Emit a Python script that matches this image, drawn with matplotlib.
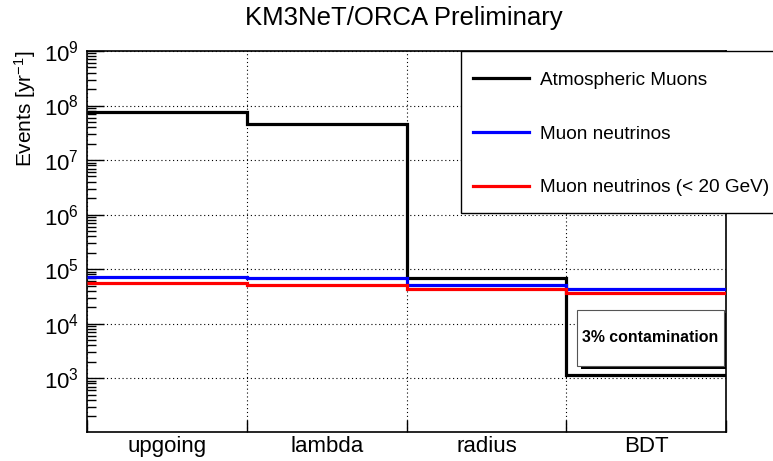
import matplotlib
matplotlib.use("Agg")
import matplotlib.pyplot as plt
import numpy as np
from matplotlib.patches import Rectangle
from matplotlib.ticker import LogLocator, FixedLocator, NullFormatter

plt.rcParams['font.family'] = ['Liberation Sans', 'DejaVu Sans']
plt.rcParams['mathtext.fontset'] = 'custom'
plt.rcParams['mathtext.rm'] = 'Liberation Sans'
plt.rcParams['mathtext.it'] = 'Liberation Sans:italic'
plt.rcParams['mathtext.bf'] = 'Liberation Sans:bold'

# ---- data ----
categories = ["upgoing", "lambda", "radius", "BDT"]
atm_muons = [7.7e7, 4.5e7, 7.0e4, 1.15e3]
numu = [7.2e4, 6.8e4, 5.2e4, 4.4e4]
numu_lowE = [5.6e4, 5.2e4, 4.3e4, 3.6e4]
series_labels = ["Atmospheric Muons", "Muon neutrinos", "Muon neutrinos (< 20 GeV)"]
title = "KM3NeT/ORCA Preliminary"
ylabel = "Events [yr$^{-1}$]"
annotation = "3% contamination"
ylim = (1.03e2, 1e9)
major_decades = [1e3, 1e4, 1e5, 1e6, 1e7, 1e8, 1e9]

edges = np.arange(len(categories) + 1)
centers = edges[:-1] + 0.5

fig = plt.figure(figsize=(7.73, 4.61), dpi=100)
ax = fig.add_axes([87/773, 1-432/461, (726-87)/773, (432-51)/461])

ax.set_yscale('log')
ax.set_ylim(*ylim)
ax.set_xlim(edges[0], edges[-1])

h1 = ax.stairs(atm_muons, edges, baseline=None, color='black', lw=2.3, label=series_labels[0], zorder=3)
h2 = ax.stairs(numu, edges, baseline=None, color='#0000ff', lw=2.3, label=series_labels[1], zorder=4)
h3 = ax.stairs(numu_lowE, edges, baseline=None, color='#ff0000', lw=2.3, label=series_labels[2], zorder=5)

# axes ticks
ax.yaxis.set_major_locator(FixedLocator(major_decades))
ax.yaxis.set_minor_locator(LogLocator(base=10, subs=np.arange(2, 10), numticks=20))
ax.yaxis.set_minor_formatter(NullFormatter())
ax.tick_params(axis='y', which='major', direction='in', length=12, width=1, labelsize=16, pad=6)
ax.tick_params(axis='y', which='minor', direction='in', length=6.5, width=1)
ax.tick_params(axis='y', which='both', right=False)

ax.xaxis.set_major_locator(FixedLocator(edges))
ax.xaxis.set_major_formatter(NullFormatter())
ax.xaxis.set_minor_locator(FixedLocator(centers))
ax.set_xticklabels(categories, minor=True)
ax.tick_params(axis='x', which='major', direction='in', length=8.5, width=1, top=False)
ax.tick_params(axis='x', which='minor', length=0, labelsize=16, pad=3, top=False)

ax.grid(True, which='major', axis='both', color='black', linestyle=(0, (1, 2.5)), lw=0.8)
ax.set_axisbelow(True)
for s in ax.spines.values():
    s.set_linewidth(1.2)

ax.set_ylabel(ylabel, fontsize=15, loc='top', labelpad=4)

fig.text(404/773, 1-18/461, title, ha='center', va='center', fontsize=18.5)

# annotation box with shadow (ROOT TPaveText style)
bx0, bx1 = (577-87)/639, (724-87)/639
by0, by1 = (432-366)/381, (432-310)/381
shadow = Rectangle((bx0+0.006, by0-0.007), bx1-bx0, by1-by0, transform=ax.transAxes,
                   facecolor='black', edgecolor='none', zorder=6)
box = Rectangle((bx0, by0), bx1-bx0, by1-by0, transform=ax.transAxes,
                facecolor='white', edgecolor='#555555', lw=0.8, zorder=7)
ax.add_patch(shadow)
ax.add_patch(box)
ax.text((bx0+bx1)/2, (by0+by1)/2, annotation, transform=ax.transAxes,
        ha='center', va='center', fontsize=11.4, fontweight='bold', zorder=8)

# legend frame (extends beyond right edge of the canvas, as in the reference)
lx0, ly_top, ly_bot = 461/773, 1-51/461, 1-213/461
frame = Rectangle((lx0, ly_bot), 0.6, ly_top-ly_bot, transform=fig.transFigure,
                  facecolor='white', edgecolor='black', lw=1.0, zorder=10)
fig.patches.append(frame)

leg = fig.legend(handles=[h1, h2, h3], labels=series_labels,
                 loc='center left', bbox_to_anchor=(lx0, 1-134/461),
                 bbox_transform=fig.transFigure, fontsize=13.7, frameon=False,
                 borderaxespad=0, borderpad=0.65,
                 labelspacing=1.91, handlelength=2.9, handletextpad=0.62)
leg.set_zorder(11)
for line in leg.get_lines():
    line.set_linewidth(2.3)

fig.savefig('out.png', dpi=100)
